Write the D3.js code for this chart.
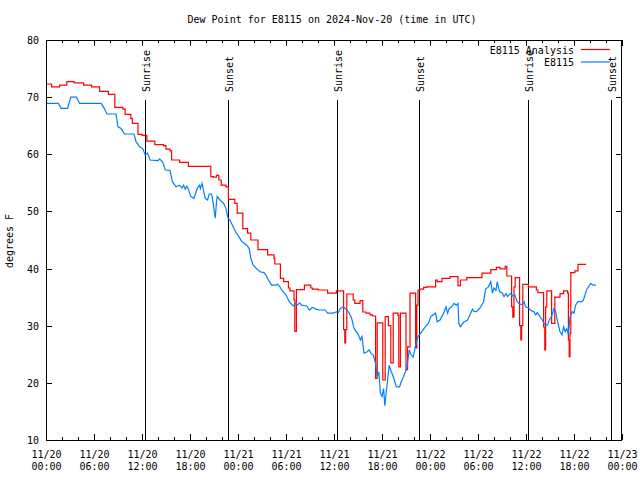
<!DOCTYPE html>
<html><head><meta charset="utf-8">
<script src="https://cdn.jsdelivr.net/npm/d3@7"></script>
<style>
body{margin:0;background:#fff}
svg text{font-family:"DejaVu Sans Mono","Liberation Mono",monospace;font-size:10px;fill:#000}
</style>
</head><body>
<svg id="c" width="640" height="480"></svg>
<script>
// ---------------- data ----------------
const startUTC = Date.UTC(2024, 10, 20, 0, 0);
const xMajorHours = [0, 6, 12, 18, 24, 30, 36, 42, 48, 54, 60, 66, 72];
const xMinorHours = d3.range(0, 73, 2);
const yTicks = [10, 20, 30, 40, 50, 60, 70, 80];

const analysisHours = [0,0.7,1.7,2.6,3.5,4.7,5.7,6.7,7.8,8.6,9.6,9.9,10.6,10.8,11.5,12.0,12.6,13.6,14.7,15.0,15.5,15.7,16.7,17.8,20.6,20.9,21.3,21.6,21.9,22.5,22.8,23.6,23.9,24.6,25.2,25.6,26.5,27.7,28.5,28.6,29.3,29.7,30.3,30.5,31.0,31.1,31.3,32.3,33.1,33.3,34.0,35.2,36.3,37.2,37.35,37.45,37.6,38.4,38.6,39.25,39.6,40.0,40.5,40.8,41.2,41.4,42.1,42.4,42.8,43.1,43.4,44.0,44.1,44.3,45.0,45.2,45.5,46.2,46.35,46.5,46.75,47.2,47.6,48.7,48.9,49.5,50.5,51.5,51.8,52.6,54.5,55.6,56.3,56.75,57.4,57.6,58.2,58.35,58.5,58.65,59.2,59.35,59.45,59.6,60.3,61.3,61.5,62.2,62.35,62.45,62.6,63.2,63.6,64.25,64.7,65.2,65.3,65.4,65.5,65.6,66.1,66.5,67.5];
const analysisValues = [72.3,71.8,72.1,72.7,72.5,72.1,71.8,71.0,70.5,68.2,67.9,67.0,66.3,65.4,63.5,63.3,62.3,61.7,61.5,60.9,60.6,59.0,58.6,57.9,56.1,56.0,56.3,55.5,54.6,54.3,52.1,51.4,49.7,47.0,46.2,45.0,43.3,42.4,41.8,40.8,38.3,37.7,36.6,36.1,34.5,29.0,36.3,37.1,36.6,36.4,36.25,35.7,36.1,29.3,27.0,29.3,35.55,34.5,33.9,34.4,32.4,32.2,31.9,31.7,20.8,30.5,20.5,31.6,30.0,23.5,32.2,31.8,22.8,32.2,22.3,26.3,35.7,26.1,33.6,36.25,36.4,36.7,36.8,38.0,37.7,38.3,38.6,37.0,38.0,38.4,39.2,39.8,40.2,39.95,40.4,38.7,33.3,31.5,36.8,38.4,30.0,27.5,30.0,37.25,36.8,36.25,35.8,29.8,25.75,33.3,36.1,30.4,35.0,35.6,36.1,35.7,27.5,24.6,28.7,39.3,39.6,40.75,40.75];

const obsHours = [0,1.54,1.9,2.7,3.1,3.8,4.2,6.9,7.3,7.6,8.75,9.0,9.4,9.8,11.0,11.25,11.7,12.1,12.4,12.7,13.0,14.0,14.2,14.6,14.9,15.5,15.8,16.25,16.7,17.0,17.2,17.4,17.6,17.8,18.1,18.5,18.9,19.2,19.3,19.5,19.9,20.2,20.4,20.7,20.9,21.15,21.3,21.4,21.75,22.2,22.5,22.75,23.0,23.3,23.7,24.1,24.5,25.1,25.4,25.6,25.9,26.3,26.75,27.25,27.5,27.8,28.2,28.75,28.95,29.2,29.45,30.0,30.4,30.9,31.25,31.4,31.7,31.95,32.6,32.9,33.3,33.75,34.25,34.9,35.2,35.9,36.3,36.55,36.8,37.2,37.6,37.9,38.2,38.5,38.75,39.05,39.3,39.5,39.75,40.1,40.4,40.6,40.9,41.2,41.4,41.6,41.8,42.0,42.2,42.35,42.5,42.7,42.9,43.1,43.4,43.8,44.2,44.4,44.7,45.1,45.4,45.6,45.9,46.2,46.5,47.0,47.4,47.8,48.1,48.7,48.9,49.25,49.7,50.0,50.2,50.4,50.7,51.0,51.3,51.5,51.6,51.8,52.2,52.7,53.0,53.3,53.5,53.8,54.25,54.7,54.95,55.3,55.6,55.8,56.0,56.25,56.4,56.7,57.0,57.25,57.5,57.7,57.9,58.1,58.3,58.6,58.9,59.2,59.5,59.75,59.95,60.3,60.7,61.0,61.2,61.4,61.6,61.9,62.4,62.7,62.9,63.2,63.5,63.7,63.9,64.25,64.5,64.7,64.9,65.1,65.3,65.5,65.8,66.0,66.2,66.5,67.0,67.2,67.6,68.1,68.4,68.75];
const obsValues = [68.9,68.9,68.05,68.05,70.0,70.0,68.9,68.9,68.0,67.05,67.05,64.8,64.5,63.55,63.55,62.2,61.3,61.0,59.9,60.2,59.0,58.9,59.2,58.6,57.25,57.2,55.2,54.3,54.6,54.1,54.6,53.9,54.4,53.9,52.6,52.3,54.05,54.6,54.0,54.9,52.3,52.0,53.05,53.05,51.4,48.8,51.4,52.6,52.0,51.4,50.5,48.8,48.5,47.6,46.45,45.6,44.7,44.1,43.5,41.8,40.6,40.0,39.45,39.3,38.8,38.0,37.1,37.1,37.3,36.9,36.25,35.4,34.2,33.45,33.9,33.6,34.0,33.6,33.45,32.75,33.2,32.9,32.75,32.75,32.2,32.2,32.4,32.3,33.05,33.3,32.75,32.2,31.3,29.55,29.0,28.4,27.5,28.1,25.2,25.4,25.75,25.2,24.9,23.4,21.1,21.9,18.2,17.6,19.0,16.0,18.0,20.5,23.1,22.2,21.1,19.3,19.3,20.2,21.1,22.55,25.75,25.0,24.5,26.6,28.1,29.0,29.8,30.4,31.6,32.2,30.7,31.0,32.2,33.3,32.2,33.05,33.3,33.9,33.6,33.9,30.4,29.8,30.6,31.0,31.9,32.9,32.5,32.45,33.1,34.2,36.4,36.8,37.7,35.7,36.6,36.2,37.7,35.95,35.8,35.1,35.6,35.1,35.4,35.7,35.2,35.4,34.2,33.8,33.7,34.2,33.3,33.1,32.6,32.45,31.9,32.3,31.9,31.3,30.1,30.1,31.0,31.6,33.05,32.5,31.0,28.95,28.4,29.8,28.95,29.5,28.4,31.6,32.45,32.2,33.6,34.2,34.2,34.6,36.4,37.4,37.1,37.1];

const sunHours = [12.41, 22.79, 36.41, 46.66, 60.29, 70.66];
const sunLabels = ["Sunrise", "Sunset", "Sunrise", "Sunset", "Sunrise", "Sunset"];

const seriesNames = ["E8115 Analysis", "E8115"];
const seriesColors = ["#ff0000", "#0080ff"];
const titleText = "Dew Point for E8115 on 2024-Nov-20 (time in UTC)";
const yLabelText = "degrees F";

// ---------------- drawing ----------------
const svg = d3.select("#c");
const L = 46, R = 622, T = 40, B = 440;
const hToDate = h => new Date(startUTC + h * 3600e3);
const x = d3.scaleUtc().domain([hToDate(0), hToDate(72)]).range([L, R]);
const y = d3.scaleLinear().domain([10, 80]).range([B, T]);

svg.append("rect").attr("width", 640).attr("height", 480).attr("fill", "#fff");

const fmtD = d3.utcFormat("%m/%d"), fmtT = d3.utcFormat("%H:%M");

function styleAxis(g) {
  g.select(".domain").remove();
  g.selectAll("line").attr("stroke", "#000").attr("shape-rendering", "crispEdges");
  g.attr("font-family", null).attr("font-size", null);
}

// bottom minor + major
svg.append("g").attr("transform", `translate(0,${B})`)
  .call(d3.axisBottom(x).tickValues(xMinorHours.map(hToDate)).tickSizeInner(-3).tickSizeOuter(0).tickFormat(""))
  .call(styleAxis);
const bx = svg.append("g").attr("transform", `translate(0,${B})`)
  .call(d3.axisBottom(x).tickValues(xMajorHours.map(hToDate)).tickSizeInner(-6).tickSizeOuter(0).tickFormat(fmtD))
  .call(styleAxis);
bx.selectAll(".tick text").each(function(d) {
  const t = d3.select(this).text("").attr("y", 0).attr("dy", null).attr("text-anchor", "middle");
  t.append("tspan").attr("x", 0).attr("y", 18).text(fmtD(d));
  t.append("tspan").attr("x", 0).attr("y", 30).text(fmtT(d));
});
// top mirror
svg.append("g").attr("transform", `translate(0,${T})`)
  .call(d3.axisTop(x).tickValues(xMinorHours.map(hToDate)).tickSizeInner(-3).tickSizeOuter(0).tickFormat(""))
  .call(styleAxis);
svg.append("g").attr("transform", `translate(0,${T})`)
  .call(d3.axisTop(x).tickValues(xMajorHours.map(hToDate)).tickSizeInner(-6).tickSizeOuter(0).tickFormat(""))
  .call(styleAxis);
// y axes
const ly = svg.append("g").attr("transform", `translate(${L},0)`)
  .call(d3.axisLeft(y).tickValues(yTicks).tickSizeInner(-6).tickSizeOuter(0).tickPadding(7).tickFormat(d3.format("d")))
  .call(styleAxis);
ly.selectAll(".tick text").attr("dy", "0.35em");
svg.append("g").attr("transform", `translate(${R},0)`)
  .call(d3.axisRight(y).tickValues(yTicks).tickSizeInner(-6).tickSizeOuter(0).tickFormat(""))
  .call(styleAxis);

// clip
svg.append("clipPath").attr("id", "clip").append("rect")
  .attr("x", L).attr("y", T).attr("width", R - L).attr("height", B - T);

// sunrise/sunset lines
const sg = svg.append("g");
sunHours.forEach((h, i) => {
  const xp = Math.round(x(hToDate(h))) + 0.5;
  sg.append("line").attr("x1", xp).attr("x2", xp).attr("y1", B).attr("y2", 100)
    .attr("stroke", "#000").attr("stroke-width", 1);
  sg.append("text").attr("transform", `translate(${xp + 1},92) rotate(-90)`)
    .attr("text-anchor", "start").attr("dominant-baseline", "middle").text(sunLabels[i]);
});

// data
const dataA = analysisHours.map((h, i) => [hToDate(h), analysisValues[i]]);
const dataO = obsHours.map((h, i) => [hToDate(h), obsValues[i]]);
const lineStep = d3.line().x(d => x(d[0])).y(d => y(d[1])).curve(d3.curveStepAfter);
const lineLin = d3.line().x(d => x(d[0])).y(d => y(d[1]));
const dg = svg.append("g").attr("clip-path", "url(#clip)");
dg.append("path").attr("d", lineStep(dataA)).attr("fill", "none").attr("stroke", seriesColors[0]).attr("stroke-width", 1.2);
dg.append("path").attr("d", lineLin(dataO)).attr("fill", "none").attr("stroke", seriesColors[1]).attr("stroke-width", 1.2);

// border
svg.append("rect").attr("x", L + 0.5).attr("y", T + 0.5).attr("width", R - L - 1).attr("height", B - T)
  .attr("fill", "none").attr("stroke", "#000").attr("shape-rendering", "crispEdges");

// title + y label
svg.append("text").attr("x", 332).attr("y", 23).attr("text-anchor", "middle").text(titleText);
svg.append("text").attr("transform", "translate(13,241) rotate(-90)").attr("text-anchor", "middle").text(yLabelText);

// legend
seriesNames.forEach((n, i) => {
  const yy = 50 + i * 12.5;
  svg.append("text").attr("x", 574).attr("y", yy).attr("dy", "0.35em").attr("text-anchor", "end").text(n);
  svg.append("line").attr("x1", 581).attr("x2", 610).attr("y1", yy - 0.5).attr("y2", yy - 0.5)
    .attr("stroke", seriesColors[i]).attr("stroke-width", 1.2);
});
</script>
</body></html>
